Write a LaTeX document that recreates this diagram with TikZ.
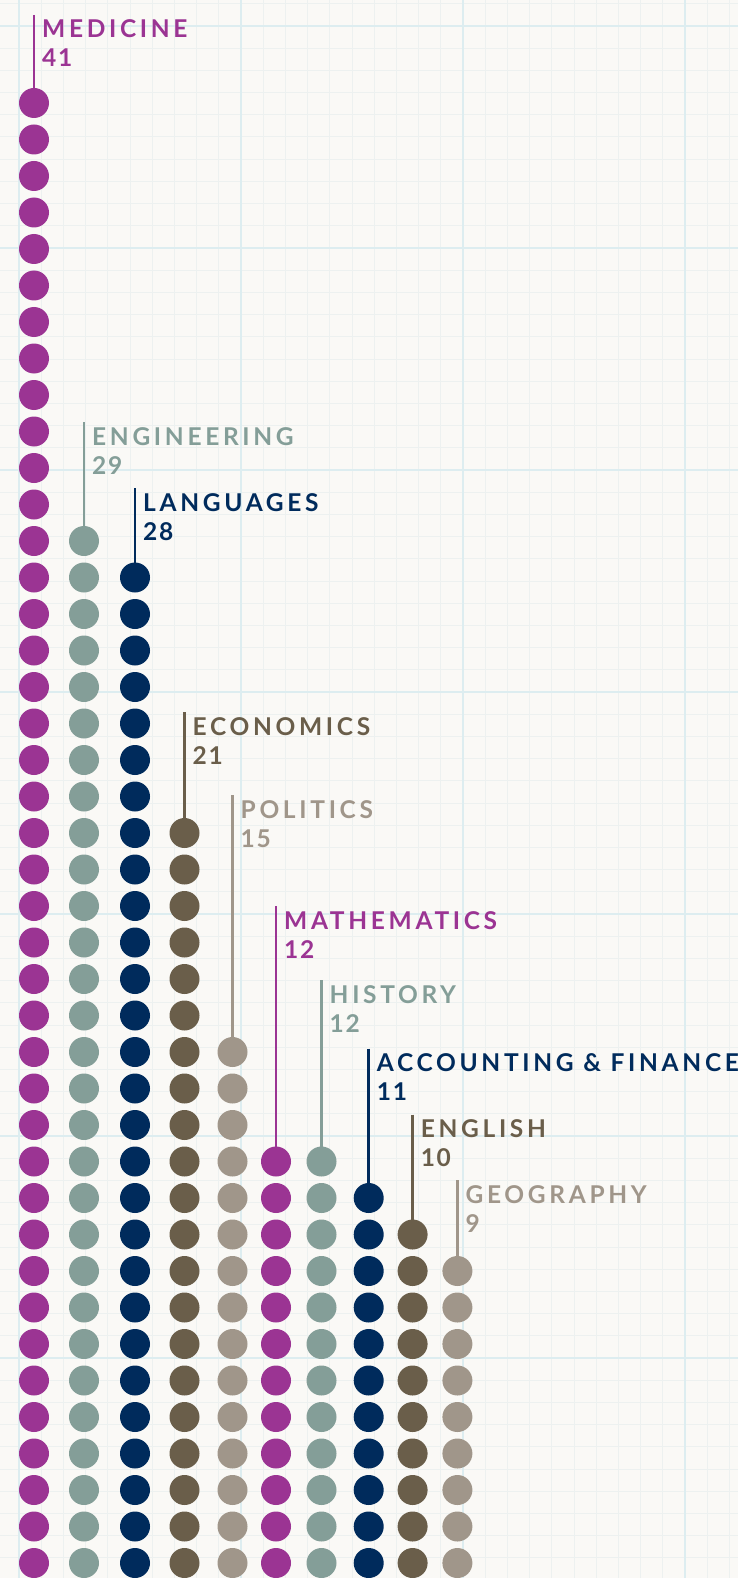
\documentclass[tikz,border=0pt]{standalone}
\usepackage{fontspec}
\newfontfamily\labfont{Lato}[LetterSpace=15]
\newfontfamily\numfont{Lato}[LetterSpace=7]
\definecolor{cPur}{HTML}{9B3493}
\definecolor{cGrn}{HTML}{849E98}
\definecolor{cNav}{HTML}{002B5C}
\definecolor{cBrn}{HTML}{6A5E4A}
\definecolor{cTau}{HTML}{A0968A}
\definecolor{bgc}{HTML}{FAF9F6}
\definecolor{gridmin}{HTML}{EDF1F0}
\definecolor{gridmaj}{HTML}{DDEDF0}
\begin{document}
\begin{tikzpicture}[x=1pt,y=-1pt,
 dot/.style={circle,minimum size=30pt,inner sep=0pt,draw=none},
 leader/.style={line width=2.6pt},
 lab/.style={anchor=base west,inner sep=0pt,font=\labfont\bfseries\fontsize{24.5}{29}\selectfont},
 num/.style={anchor=base west,inner sep=0pt,font=\numfont\bfseries\fontsize{24.5}{29}\selectfont},
 minorline/.style={draw=gridmin,line width=1pt},
 majorline/.style={draw=gridmaj,line width=2pt}]
\useasboundingbox (0,0) rectangle (738,1578);
\fill[bgc] (0,0) rectangle (738,1578);
% graph paper
\foreach \k in {0,...,34} \draw[minorline] ({-3.2+22.2*\k},0) -- ++(0,1578);
\foreach \k in {0,...,71} \draw[minorline] (0,{3.8+22.2*\k}) -- ++(738,0);
\foreach \k in {0,...,3} \draw[majorline] ({19+222*\k},0) -- ++(0,1578);
\foreach \k in {0,...,6} \draw[majorline] (0,{26+222*\k}) -- ++(738,0);
% columns
\foreach \nm/\x/\n/\c/\b/\t in {
 med/34/41/cPur/38/MEDICINE,
 eng/84/29/cGrn/445/ENGINEERING,
 lan/135/28/cNav/511/LANGUAGES,
 eco/184.5/21/cBrn/735/ECONOMICS,
 pol/232.5/15/cTau/818.3/POLITICS,
 mat/276/12/cPur/929.3/MATHEMATICS,
 his/321.5/12/cGrn/1003.3/HISTORY,
 acc/368.7/11/cNav/1071.7/{ACCOUNTING \& FINANCE},
 engl/412.6/10/cBrn/1137.7/ENGLISH,
 geo/457.4/9/cTau/1203.3/GEOGRAPHY}
{
 \foreach \i in {1,...,\n} \node[dot,fill=\c] (\nm-\i) at (\x,{1563-(\i-1)*36.5}) {};
 \coordinate (\nm-top) at (\x,\b-23);
 \draw[leader,draw=\c] (\nm-top) -- (\nm-\n.center);
 \node[lab,text=\c] (\nm-label) at (\x+8,\b) {\t};
 \node[num,text=\c] (\nm-count) at (\x+8,\b+29) {\n};
}
\end{tikzpicture}
\end{document}
